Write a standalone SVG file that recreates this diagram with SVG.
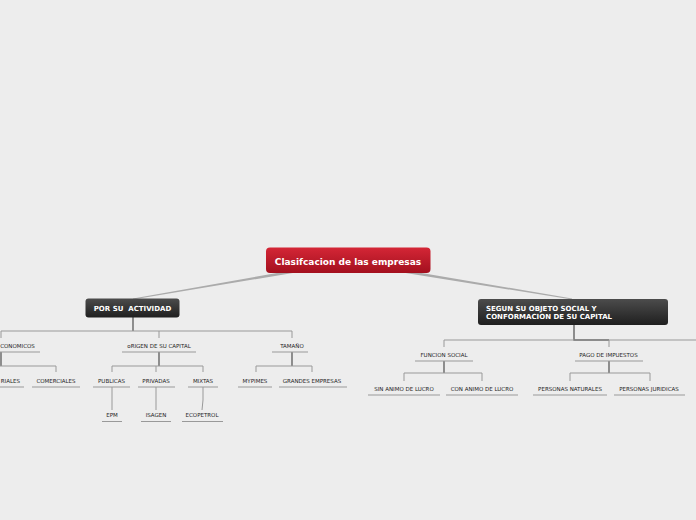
<svg xmlns="http://www.w3.org/2000/svg" width="696" height="520" viewBox="0 0 696 520">
<defs>
<linearGradient id="gRed" x1="0" y1="0" x2="0" y2="1">
<stop offset="0" stop-color="#d42636"/>
<stop offset="1" stop-color="#a3101e"/>
</linearGradient>
<linearGradient id="gDark" x1="0" y1="0" x2="0" y2="1">
<stop offset="0" stop-color="#4c4c4c"/>
<stop offset="1" stop-color="#1f1f1f"/>
</linearGradient>
<style>
.lbl{font-family:"DejaVu Sans",Verdana,sans-serif;font-size:5.5px;fill:#1c1c1c;text-anchor:middle}
.ttl{font-family:"DejaVu Sans",Verdana,sans-serif;font-size:7px;font-weight:bold;fill:#fff}
.ul{stroke:#999;stroke-width:1;fill:none}
.ln{stroke:#999;stroke-width:1;fill:none}
.dr{stroke:#5a5a5a;stroke-width:1.3;fill:none}
.rc{fill:#ababab}
</style>
</defs>
<rect width="696" height="520" fill="#ededed"/>

<g id="connectors">
<polygon class="rc" points="348,260.5 348,263.8 133,299.6 133,298.4"/>
<polygon class="rc" points="348,260.5 348,263.8 572,299.6 572,298.4"/>
<!-- left branch -->
<path class="dr" d="M133,317V331"/>
<path class="ln" d="M1,338V331H292V338M159,331V338"/>
<path class="dr" d="M1,352V366"/>
<path class="ln" d="M0,366H56V372"/>
<path class="dr" d="M159,352V366"/>
<path class="ln" d="M112,372V366H203V372M156,366V372"/>
<path class="dr" d="M292,352V366"/>
<path class="ln" d="M256,372V366H312V372"/>
<path class="ln" d="M112,387V410M156,387V410M203,387V400L202,410"/>
<!-- right branch -->
<path class="dr" d="M574,325V340H609"/>
<path class="ln" d="M444,347V340H696M609,340V347"/>
<path class="dr" d="M444,361V373"/>
<path class="ln" d="M404,381V373H482V381"/>
<path class="dr" d="M609,361V373"/>
<path class="ln" d="M570,381V373H650V381"/>
</g>

<g id="root">
<rect x="266" y="247.5" width="164.5" height="25.5" rx="4" fill="url(#gRed)"/>
<text x="348" y="265" text-anchor="middle" style="font-family:'DejaVu Sans',Verdana,sans-serif;font-size:9px;font-weight:bold;fill:#fff">Clasifcacion de las empresas</text>
</g>

<g id="n-actividad">
<rect x="85.5" y="298.5" width="94" height="19" rx="3" fill="url(#gDark)"/>
<text class="ttl" x="132.5" y="311" text-anchor="middle" xml:space="preserve">POR SU  ACTIVIDAD</text>
</g>

<g id="n-segun">
<rect x="478" y="299" width="190" height="26" rx="3" fill="url(#gDark)"/>
<text class="ttl" x="486" y="310.5">SEGUN SU OBJETO SOCIAL Y</text>
<text class="ttl" x="486" y="319">CONFORMACION DE SU CAPITAL</text>
</g>

<g id="n-economicos">
<text class="lbl" x="0.2" y="348" style="text-anchor:start">CONOMICOS</text>
<path class="ul" d="M-8,352H40"/>
</g>
<g id="n-origen">
<text class="lbl" x="159" y="348">oRIGEN DE SU CAPITAL</text>
<path class="ul" d="M122,352H196"/>
</g>
<g id="n-tamano">
<text class="lbl" x="292" y="348">TAMAÑO</text>
<path class="ul" d="M272,352H308"/>
</g>

<g id="n-industriales">
<text class="lbl" x="20" y="383" style="text-anchor:end">RIALES</text>
<path class="ul" d="M-24,387H24"/>
</g>
<g id="n-comerciales">
<text class="lbl" x="56" y="383">COMERCIALES</text>
<path class="ul" d="M32,387H80"/>
</g>
<g id="n-publicas">
<text class="lbl" x="111.5" y="383">PUBLICAS</text>
<path class="ul" d="M93,387H130"/>
</g>
<g id="n-privadas">
<text class="lbl" x="156" y="383">PRIVADAS</text>
<path class="ul" d="M138,387H175"/>
</g>
<g id="n-mixtas">
<text class="lbl" x="203" y="383">MIXTAS</text>
<path class="ul" d="M188,387H218"/>
</g>
<g id="n-mypimes">
<text class="lbl" x="255" y="383">MYPIMES</text>
<path class="ul" d="M238,387H272"/>
</g>
<g id="n-grandes">
<text class="lbl" x="312" y="383">GRANDES EMPRESAS</text>
<path class="ul" d="M279,387H347"/>
</g>
<g id="n-epm">
<text class="lbl" x="112" y="417">EPM</text>
<path class="ul" d="M102,421.5H122"/>
</g>
<g id="n-isagen">
<text class="lbl" x="156" y="417">ISAGEN</text>
<path class="ul" d="M141,421.5H171"/>
</g>
<g id="n-ecopetrol">
<text class="lbl" x="202" y="417">ECOPETROL</text>
<path class="ul" d="M182,421.5H223"/>
</g>

<g id="n-funcion">
<text class="lbl" x="444" y="357">FUNCION SOCIAL</text>
<path class="ul" d="M415,361H473"/>
</g>
<g id="n-pago">
<text class="lbl" x="608.5" y="357">PAGO DE IMPUESTOS</text>
<path class="ul" d="M575,361H643"/>
</g>
<g id="n-sin">
<text class="lbl" x="404" y="391">SIN ANIMO DE LUCRO</text>
<path class="ul" d="M368,395H440"/>
</g>
<g id="n-con">
<text class="lbl" x="482" y="391">CON ANIMO DE LUCRO</text>
<path class="ul" d="M446,395H518"/>
</g>
<g id="n-naturales">
<text class="lbl" x="570" y="391">PERSONAS NATURALES</text>
<path class="ul" d="M533,395H607"/>
</g>
<g id="n-juridicas">
<text class="lbl" x="649" y="391">PERSONAS JURIDICAS</text>
<path class="ul" d="M614,395H685"/>
</g>
</svg>
